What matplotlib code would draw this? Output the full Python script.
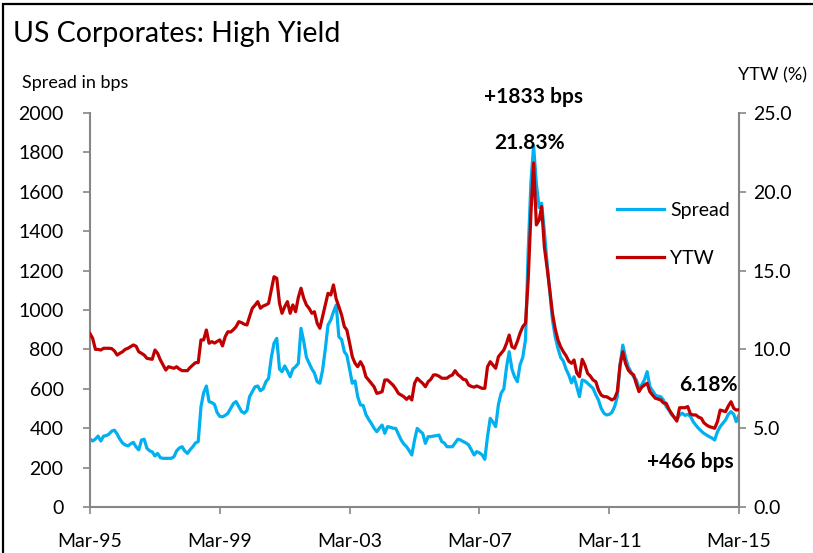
import matplotlib
matplotlib.use("Agg")
import matplotlib.pyplot as plt
from matplotlib.patches import Rectangle
import pandas as pd

# Monthly observations, Mar-1995 .. Mar-2015
start_month = "1995-03-31"

spread_bps = [
    345, 335, 345, 360, 335, 360, 362, 370, 385, 390, 370, 345,
    325, 315, 310, 320, 328, 305, 290, 340, 344, 298, 285, 280,
    259, 272, 250, 247, 247, 247, 247, 255, 285, 300, 306, 285,
    272, 290, 306, 325, 332, 509, 580, 614, 535, 530, 520, 480,
    460, 458, 465, 476, 500, 525, 535, 510, 485, 476, 490, 560,
    585, 610, 614, 590, 600, 636, 653, 760, 831, 856, 700, 687,
    716, 690, 661, 700, 712, 729, 907, 840, 760, 729, 700, 680,
    636, 628, 695, 800, 924, 949, 990, 1025, 864, 850, 788, 770,
    700, 628, 640, 560, 518, 515, 470, 445, 425, 400, 382, 400,
    416, 374, 408, 405, 400, 399, 370, 340, 320, 306, 285, 264,
    340, 399, 385, 374, 323, 357, 357, 360, 362, 365, 332, 325,
    306, 306, 306, 325, 344, 340, 332, 325, 315, 290, 264, 281,
    275, 265, 242, 357, 450, 430, 408, 520, 577, 600, 712, 788,
    700, 661, 636, 721, 760, 850, 1300, 1650, 1833, 1640, 1520, 1542,
    1400, 1240, 1090, 950, 864, 805, 760, 740, 700, 670, 630, 661,
    611, 560, 645, 640, 628, 615, 602, 570, 543, 500, 476, 467,
    470, 480, 510, 560, 721, 822, 760, 712, 687, 660, 645, 602,
    620, 645, 687, 611, 590, 569, 562, 560, 543, 510, 492, 470,
    455, 442, 467, 476, 465, 470, 460, 433, 415, 399, 385, 374,
    365, 357, 350, 340, 382, 408, 425, 442, 470, 484, 470, 433,
    466,
]

ytw_pct = [
    11.0, 10.7, 10.0, 10.0, 9.96, 10.07, 10.07, 10.07, 10.05, 9.9, 9.64, 9.75,
    9.85, 10.0, 10.07, 10.17, 10.28, 10.2, 9.85, 9.75, 9.64, 9.43, 9.4, 9.37,
    9.96, 9.75, 9.33, 9.01, 8.69, 8.9, 8.85, 8.8, 8.9, 8.75, 8.65, 8.65,
    8.65, 8.85, 9.01, 9.16, 9.16, 10.6, 10.6, 11.23, 10.39, 10.49, 10.4, 10.5,
    10.6, 10.22, 10.81, 11.12, 11.1, 11.25, 11.44, 11.76, 11.7, 11.6, 11.55, 12.08,
    12.61, 12.8, 13.03, 12.61, 12.75, 12.82, 12.92, 13.77, 14.61, 14.51, 12.92, 12.29,
    12.71, 13.03, 12.29, 12.82, 12.39, 13.3, 13.88, 13.24, 12.82, 12.6, 12.29, 12.39,
    11.66, 11.34, 12.08, 12.8, 13.56, 13.45, 14.09, 13.2, 12.71, 12.18, 11.44, 11.23,
    10.4, 9.54, 9.12, 8.9, 9.22, 8.9, 8.27, 8.06, 7.85, 7.63, 7.21, 7.25,
    7.32, 8.06, 8.06, 7.9, 7.74, 7.5, 7.21, 7.1, 7.0, 6.83, 7.0, 6.79,
    7.85, 8.17, 8.0, 7.85, 7.63, 7.95, 8.1, 8.38, 8.38, 8.3, 8.17, 8.17,
    8.17, 8.3, 8.38, 8.65, 8.4, 8.27, 8.1, 8.06, 7.74, 7.65, 7.6, 7.68,
    7.6, 7.53, 7.53, 8.9, 9.22, 9.0, 8.8, 9.54, 9.75, 9.96, 10.39, 10.91,
    10.17, 10.07, 10.5, 11.02, 11.44, 11.66, 14.4, 18.63, 21.83, 17.9, 18.2, 19.06,
    16.5, 15.2, 13.77, 12.3, 11.3, 10.6, 10.17, 9.85, 9.6, 9.25, 9.12, 9.33,
    8.5, 8.27, 9.37, 9.01, 8.48, 8.3, 8.06, 7.95, 7.42, 7.1, 7.0, 7.0,
    6.9, 6.79, 6.9, 7.32, 9.01, 9.85, 9.12, 8.69, 8.5, 8.38, 7.8, 7.32,
    7.6, 7.74, 7.85, 7.32, 7.1, 6.9, 6.85, 6.79, 6.6, 6.58, 6.2, 5.95,
    5.7, 5.45, 6.3, 6.3, 6.3, 6.37, 5.9, 5.84, 5.84, 5.7, 5.63, 5.35,
    5.2, 5.1, 5.05, 4.99, 5.41, 6.15, 6.1, 6.05, 6.4, 6.68, 6.26, 6.15,
    6.18,
]

x_tick_labels = ["Mar-95", "Mar-99", "Mar-03", "Mar-07", "Mar-11", "Mar-15"]
left_ticks = [0, 200, 400, 600, 800, 1000, 1200, 1400, 1600, 1800, 2000]
right_ticks = [0, 5, 10, 15, 20, 25]

dates = pd.date_range(start_month, periods=len(spread_bps), freq="ME")
peak_i = spread_bps.index(max(spread_bps))

BLUE = "#00B0F0"
RED = "#C00000"
GREY = "#868686"
FONT = "Lato"

plt.rcParams["font.family"] = [FONT, "DejaVu Sans"]

fig = plt.figure(figsize=(8.13, 5.53), dpi=100)
ax = fig.add_axes([0.1107, 0.0832, 0.7983, 0.7125])
ax2 = ax.twinx()

l1, = ax.plot(dates, spread_bps, color=BLUE, lw=2.3, label="Spread", zorder=2)
l2, = ax2.plot(dates, ytw_pct, color=RED, lw=2.3, label="YTW", zorder=3)

ax.set_xlim(dates[0], dates[-1])
ax.set_ylim(0, 2000)
ax2.set_ylim(0, 25)

tick_dates = [dates[0] + pd.DateOffset(months=48 * k) for k in range(len(x_tick_labels))]
tick_dates = [pd.Timestamp(d) + pd.offsets.MonthEnd(0) for d in tick_dates]
ax.set_xticks(tick_dates)
ax.set_xticklabels(x_tick_labels)
ax.set_yticks(left_ticks)
ax.set_yticklabels([str(v) for v in left_ticks])
ax2.set_yticks(right_ticks)
ax2.set_yticklabels([f"{v:.1f}" for v in right_ticks])

for a in (ax, ax2):
    for s in a.spines.values():
        s.set_visible(False)
ax.spines["left"].set_visible(True)
ax.spines["bottom"].set_visible(True)
ax2.spines["right"].set_visible(True)
for s in (ax.spines["left"], ax.spines["bottom"], ax2.spines["right"]):
    s.set_color(GREY)
    s.set_linewidth(1.5)

ax.tick_params(axis="both", direction="out", length=5, width=1.2, color=GREY,
               labelsize=14, labelcolor="black")
ax.tick_params(axis="y", pad=14)
ax.tick_params(axis="x", pad=14)
ax2.tick_params(axis="y", direction="out", length=5, width=1.2, color=GREY,
                labelsize=14, labelcolor="black", pad=5)

fig.text(0.016, 0.938, "US Corporates: High Yield", fontsize=20.5, ha="left", va="center")
fig.text(0.027, 0.85, "Spread in bps", fontsize=13, ha="left", va="center")
fig.text(0.908, 0.863, "YTW (%)", fontsize=13, ha="left", va="center")

ax.annotate(f"+{spread_bps[peak_i]} bps", xy=(dates[peak_i], spread_bps[peak_i]),
            xytext=(0, 35), textcoords="offset points", ha="center", va="center",
            fontsize=15, fontweight="bold")
ax2.annotate(f"{ytw_pct[peak_i]:.2f}%", xy=(dates[peak_i], ytw_pct[peak_i]),
             xytext=(-3, 14), textcoords="offset points", ha="center", va="center",
             fontsize=15, fontweight="bold", zorder=5)
ax2.annotate(f"{ytw_pct[-1]:.2f}%", xy=(dates[-1], ytw_pct[-1]),
             xytext=(-22, 18), textcoords="offset points", ha="center", va="center",
             fontsize=15, fontweight="bold")
ax.annotate(f"+{spread_bps[-1]} bps", xy=(dates[-1], spread_bps[-1]),
            xytext=(-35, -34), textcoords="offset points", ha="center", va="center",
            fontsize=15, fontweight="bold")

leg = ax2.legend(handles=[l1, l2], loc="upper left", bbox_to_anchor=(0.8, 0.795),
                 frameon=False, fontsize=14, handlelength=2.4, handletextpad=0.35,
                 labelspacing=1.6, borderaxespad=0)

# Outer frame of the chart (top and left edges fall inside the canvas)
fig.patches.append(Rectangle((0.004, -0.02), 1.05, 1.013, transform=fig.transFigure,
                             fill=False, edgecolor="black", lw=1.6))

fig.savefig("out.png", dpi=100)
